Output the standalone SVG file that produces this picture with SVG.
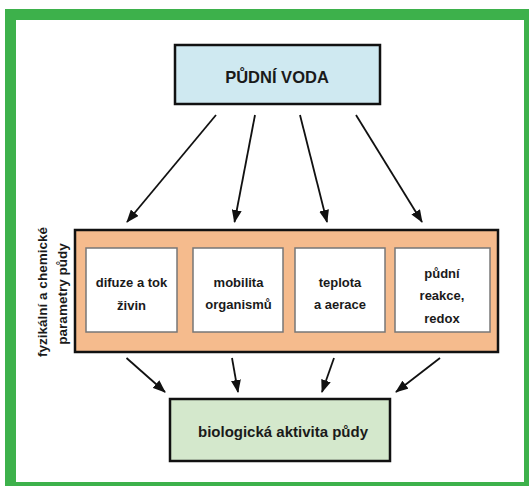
<svg xmlns="http://www.w3.org/2000/svg" width="529" height="486" viewBox="0 0 529 486">
<style>
text{font-family:"Liberation Sans",Arial,sans-serif;font-weight:bold;fill:#1a1a1a;text-anchor:middle}
.main{stroke:#111;stroke-width:2.5}
.inner{fill:#fff;stroke:#777;stroke-width:1.5}
.t{font-size:13px}
.c{stroke:#111;stroke-width:1.8;fill:none;marker-end:url(#ah)}
</style>
<defs>
<marker id="ah" viewBox="0 0 13 10" refX="12" refY="5" markerWidth="13" markerHeight="10" markerUnits="userSpaceOnUse" orient="auto">
<path d="M0,0 L13,5 L0,10 Z" fill="#111"/>
</marker>
</defs>
<rect x="5" y="9" width="530" height="483" fill="#3db14b"/>
<rect x="16" y="20" width="508" height="462" fill="#fff"/>
<g id="puda-voda">
<rect class="main" x="175" y="45" width="205" height="59" fill="#cfe9f1"/>
<text x="277" y="83" font-size="16.5">PŮDNÍ VODA</text>
</g>
<g id="parametry">
<rect class="main" x="75" y="230" width="423" height="122" fill="#f5bb8d"/>
<text transform="translate(47,292) rotate(-90)" font-size="13.5">fyzikální a chemické</text>
<text transform="translate(67,294) rotate(-90)" font-size="13.5">parametry půdy</text>
</g>
<g id="difuze">
<rect class="inner" x="86" y="248" width="91" height="84"/>
<text class="t" x="131.5" y="287">difuze a tok</text>
<text class="t" x="131.5" y="310">živin</text>
</g>
<g id="mobilita">
<rect class="inner" x="193" y="248" width="90" height="84"/>
<text class="t" x="238.5" y="287">mobilita</text>
<text class="t" x="238.5" y="309">organismů</text>
</g>
<g id="teplota">
<rect class="inner" x="295" y="248" width="90" height="84"/>
<text class="t" x="340" y="287">teplota</text>
<text class="t" x="340" y="309">a aerace</text>
</g>
<g id="reakce">
<rect class="inner" x="395" y="248" width="95" height="84"/>
<text class="t" x="442" y="278">půdní</text>
<text class="t" x="442" y="300">reakce,</text>
<text class="t" x="442" y="323">redox</text>
</g>
<g id="bio">
<rect class="main" x="170" y="399" width="220" height="62" fill="#d4e8cc"/>
<text x="283" y="437" font-size="15">biologická aktivita půdy</text>
</g>
<g id="connectors">
<line class="c" x1="216" y1="115" x2="127" y2="222"/>
<line class="c" x1="255" y1="115" x2="234.5" y2="222"/>
<line class="c" x1="300" y1="115" x2="327" y2="222"/>
<line class="c" x1="356" y1="115" x2="422" y2="222"/>
<line class="c" x1="126.5" y1="358" x2="165" y2="392"/>
<line class="c" x1="232" y1="358" x2="238" y2="392"/>
<line class="c" x1="334" y1="358" x2="322" y2="392"/>
<line class="c" x1="440" y1="358" x2="396" y2="392"/>
</g>
</svg>
